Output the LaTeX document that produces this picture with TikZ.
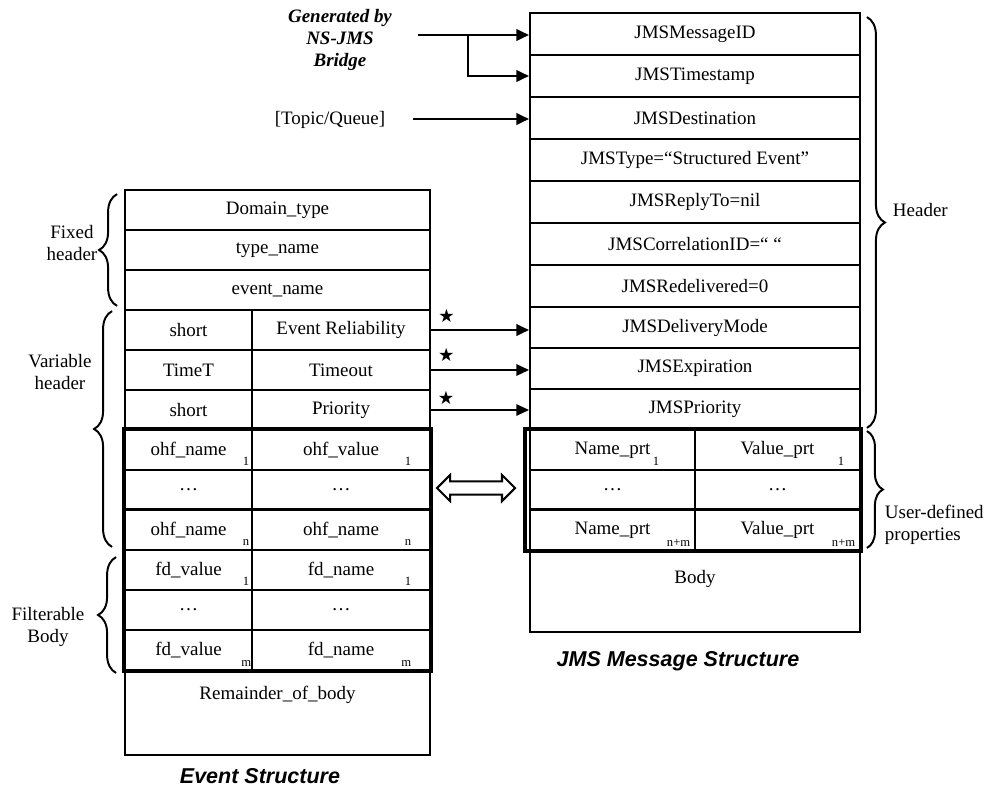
\documentclass[tikz,border=0pt]{standalone}
\usepackage{fontspec}
\setmainfont{Liberation Serif}
\setsansfont{Liberation Sans}
\newfontfamily\symfont{DejaVu Sans}
\usetikzlibrary{arrows.meta, positioning, shapes.arrows, decorations.pathreplacing, calc}
\begin{document}
\begin{tikzpicture}[x=0.25mm, y=-0.25mm,
  font=\fontsize{13.5}{15}\selectfont,
  cell/.style={draw, line width=1.3pt, inner sep=0pt, minimum height=10mm},
  evrow/.style={cell, minimum width=76.25mm},
  evl/.style={cell, minimum width=31.75mm},
  evr/.style={cell, minimum width=44.5mm},
  msgrow/.style={cell, minimum width=82.5mm, minimum height=10.5mm},
  prl/.style={cell, minimum width=41.25mm},
  sub/.style={font=\fontsize{9}{10}\selectfont, inner sep=1pt},
  grp/.style={draw, line width=2.6pt},
  arr/.style={-{Triangle[length=9pt, width=8pt]}, line width=2pt},
  brc/.style={decorate, decoration={brace, amplitude=4.5mm}, line width=1.4pt},
  lbl/.style={align=center, font=\fontsize{13.5}{15.5}\selectfont},
  gen/.style={align=center, font=\bfseries\itshape\fontsize{13.5}{15.6}\selectfont},
  caption/.style={font=\sffamily\bfseries\itshape\fontsize{15.3}{18}\selectfont},
  starsym/.style={font=\symfont\fontsize{13}{13}\selectfont, inner sep=0pt},
  dblarr/.style={draw, shape=double arrow, line width=1.5pt, inner sep=1.4mm,
    minimum height=19.5mm, double arrow head extend=1.6mm},
]
\useasboundingbox (0,0) rectangle (990,790);

% event structure
\node[evrow] (dom) at (277.5,210) {Domain\_type};
\node[evrow] (typ) at (277.5,250) {type\_name};
\node[evrow] (evn) at (277.5,290) {event\_name};
\node[evl] (rell) at (188.5,330) {short};
\node[evr] (rel) at (341,330) {Event Reliability};
\node[evl] (tmol) at (188.5,370) {TimeT};
\node[evr] (tmo) at (341,370) {Timeout};
\node[evl] (pril) at (188.5,410) {short};
\node[evr] (pri) at (341,410) {Priority};
\node[evl] (ohfal) at (188.5,450) {ohf\_name};
\node[evr] (ohfa) at (341,450) {ohf\_value};
\node[evl] (ohfdl) at (188.5,490) {\dots};
\node[evr] (ohfd) at (341,490) {\dots};
\node[evl] (ohfnl) at (188.5,530) {ohf\_name};
\node[evr] (ohfn) at (341,530) {ohf\_name};
\node[evl] (fdal) at (188.5,570) {fd\_value};
\node[evr] (fda) at (341,570) {fd\_name};
\node[evl] (fddl) at (188.5,610) {\dots};
\node[evr] (fdd) at (341,610) {\dots};
\node[evl] (fdml) at (188.5,650) {fd\_value};
\node[evr] (fdm) at (341,650) {fd\_name};
\node[evrow, minimum height=21.25mm,
  label={[anchor=north, yshift=-3mm]north:Remainder\_of\_body}] (rem) at (277.5,712.5) {};
\node[sub, anchor=south east] at ([shift={(-2,-4)}]ohfal.south east) {1};
\node[sub, anchor=south east] at ([shift={(-18,-4)}]ohfa.south east) {1};
\node[sub, anchor=south east] at ([shift={(-2,-4)}]ohfnl.south east) {n};
\node[sub, anchor=south east] at ([shift={(-18,-4)}]ohfn.south east) {n};
\node[sub, anchor=south east] at ([shift={(-2,-4)}]fdal.south east) {1};
\node[sub, anchor=south east] at ([shift={(-18,-4)}]fda.south east) {1};
\node[sub, anchor=south east] at ([shift={(0,-3)}]fdml.south east) {m};
\node[sub, anchor=south east] at ([shift={(-18,-3)}]fdm.south east) {m};
\draw[grp] (ohfal.north west) rectangle (fdm.south east);
\draw[line width=2pt] (ohfnl.north west) -- (ohfn.north east);
\node[caption] (evcap) at (260,776) {Event Structure};

% JMS message structure
\node[msgrow] (msgid) at (695,34) {JMSMessageID};
\node[msgrow] (stamp) at (695,76) {JMSTimestamp};
\node[msgrow] (dest) at (695,118) {JMSDestination};
\node[msgrow] (mtype) at (695,160) {JMSType=“Structured Event”};
\node[msgrow] (reply) at (695,202) {JMSReplyTo=nil};
\node[msgrow] (corr) at (695,244) {JMSCorrelationID=“ “};
\node[msgrow] (redel) at (695,286) {JMSRedelivered=0};
\node[msgrow, minimum height=10.25mm] (dlv) at (695,327.5) {JMSDeliveryMode};
\node[msgrow, minimum height=10.25mm] (expi) at (695,368.5) {JMSExpiration};
\node[msgrow, minimum height=10.25mm] (prio) at (695,409.5) {JMSPriority};
\node[prl] (prna) at (612.5,450) {Name\_prt};
\node[prl] (prva) at (777.5,450) {Value\_prt};
\node[prl] (prnd) at (612.5,490) {\dots};
\node[prl] (prvd) at (777.5,490) {\dots};
\node[prl] (prnm) at (612.5,530) {Name\_prt};
\node[prl] (prvm) at (777.5,530) {Value\_prt};
\node[msgrow, minimum height=20.5mm,
  label={[anchor=north, yshift=-4mm]north:Body}] (body) at (695,591) {};
\node[sub, anchor=south east] at ([shift={(-35,-4)}]prna.south east) {1};
\node[sub, anchor=south east] at ([shift={(-15,-4)}]prva.south east) {1};
\node[sub, anchor=south east] at ([shift={(-4,-3)}]prnm.south east) {n+m};
\node[sub, anchor=south east] at ([shift={(-4,-3)}]prvm.south east) {n+m};
\draw[grp] ([xshift=-3]prna.north west) rectangle (prvm.south east);
\draw[line width=2pt] (prnm.north west) -- (prvm.north east);
\node[caption] (msgcap) at (678,661) {JMS Message Structure};

% sources and mappings
\node[gen] (genlbl) at (340,40) {Generated by\\NS-JMS\\Bridge};
\node[lbl] (topic) at (330,120) {[Topic/Queue]};
\coordinate (genout) at (418,35);
\coordinate (fork) at (468,35);
\coordinate (topout) at (413,119);
\draw[arr] (genout) -- (genout -| msgid.west);
\draw[arr] (fork) |- (stamp.west);
\draw[arr] (topout) -- (topout -| dest.west);
\draw[arr] (rel.east) -- (rel.east -| dlv.west)
  node[starsym, pos=0, anchor=south west, xshift=1.5mm, yshift=1.6mm] {★};
\draw[arr, line width=1.6pt] (tmo.east) -- (tmo.east -| expi.west)
  node[starsym, pos=0, anchor=south west, xshift=1.5mm, yshift=1.8mm] {★};
\draw[arr, line width=1.3pt] (pri.east) -- (pri.east -| prio.west)
  node[starsym, pos=0, anchor=south west, xshift=1.5mm, yshift=1.2mm] {★};
\node[dblarr] (swap) at (476,488) {};

% braces
\draw[brc] ([shift={(-7,-5)}]evn.south west) -- ([shift={(-7,5)}]dom.north west);
\draw[brc] ([shift={(-12,-4)}]ohfnl.south west) -- ([shift={(-12,2)}]rell.north west);
\draw[brc] ([shift={(-8,2)}]fdml.south west) -- ([shift={(-8,8)}]fdal.north west);
\draw[brc] ([shift={(6,5)}]msgid.north east) -- ([shift={(6,-3)}]prio.south east);
\draw[brc, decoration={amplitude=4mm}] ([shift={(6,2)}]prva.north east) -- ([shift={(6,-3)}]prvm.south east);
\node[lbl] (fixlbl) at (72,243) {Fixed\\header};
\node[lbl] (varlbl) at (60,372) {Variable\\header};
\node[lbl] (fltlbl) at (48,627) {Filterable\\Body};
\node[lbl, anchor=west] (hdrlbl) at (888,210) {Header};
\node[lbl, anchor=west, align=left] (udplbl) at (880,525) {User-defined\\properties};
\end{tikzpicture}
\end{document}
